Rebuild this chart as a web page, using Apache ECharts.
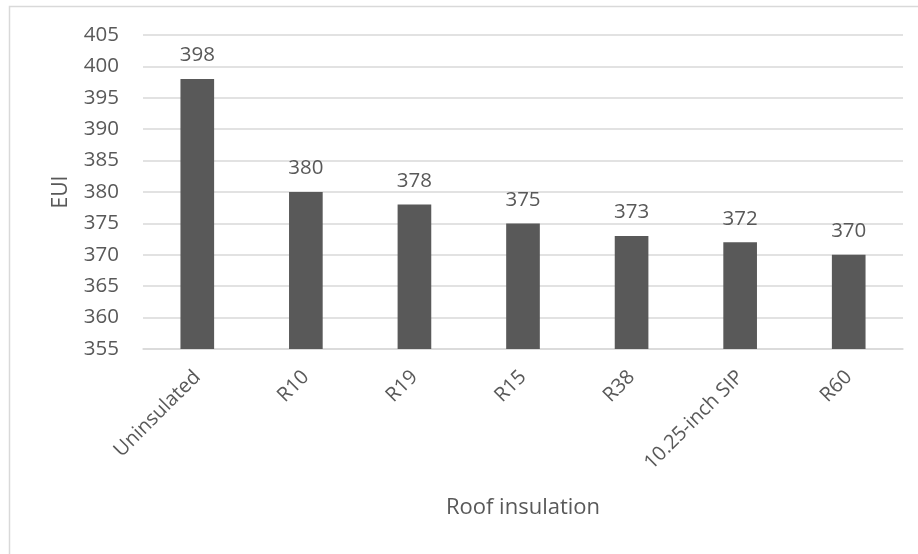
<!DOCTYPE html>
<html>
<head>
<meta charset="utf-8">
<script src="https://cdn.jsdelivr.net/npm/echarts@6/dist/echarts.min.js"></script>
<style>
  html, body { margin: 0; padding: 0; background: #fff; }
  #chart { width: 918px; height: 554px; }
</style>
</head>
<body>
<div id="chart"></div>
<script>
var categories = ['Uninsulated', 'R10', 'R19', 'R15', 'R38', '10.25-inch SIP', 'R60'];
var eui_values = [398, 380, 378, 375, 373, 372, 370];
var y_min = 355, y_max = 405, y_step = 5;

var txt_color = '#595959';
var font_ = 'Open Sans';

var option = {
	animation: false,
	graphic: [
		{
			type: 'rect',
			shape: { x: 9.5, y: 6.5, width: 1000, height: 1000 },
			style: { fill: null, stroke: '#d9d9d9', lineWidth: 1.5 },
			silent: true
		}
	],
	grid: { left: 143, right: 15, top: 35, bottom: 205 },
	xAxis: {
		type: 'category',
		data: categories,
		name: 'Roof insulation',
		nameLocation: 'middle',
		nameGap: 148,
		nameTextStyle: { color: txt_color, fontFamily: font_, fontSize: 22 },
		axisLine: { lineStyle: { color: '#d9d9d9', width: 1.5 } },
		axisTick: { show: false },
		axisLabel: {
			rotate: 45,
			margin: 25,
			color: txt_color,
			fontFamily: font_,
			fontSize: 20
		}
	},
	yAxis: {
		type: 'value',
		min: y_min,
		max: y_max,
		interval: y_step,
		name: 'EUI',
		nameLocation: 'middle',
		nameGap: 71,
		nameTextStyle: { color: txt_color, fontFamily: font_, fontSize: 21 },
		axisLine: { show: false },
		axisTick: { show: false },
		splitLine: { lineStyle: { color: '#d9d9d9', width: 1.5 } },
		axisLabel: {
			margin: 24,
			color: txt_color,
			fontFamily: font_,
			fontSize: 20.5
		}
	},
	series: [
		{
			type: 'bar',
			data: eui_values,
			barWidth: '31%',
			itemStyle: { color: '#595959' },
			label: {
				show: true,
				position: 'top',
				distance: 13,
				color: txt_color,
				fontFamily: font_,
				fontSize: 20.5
			}
		}
	]
};

var chart = echarts.init(document.getElementById('chart'));
chart.setOption(option);
</script>
</body>
</html>
